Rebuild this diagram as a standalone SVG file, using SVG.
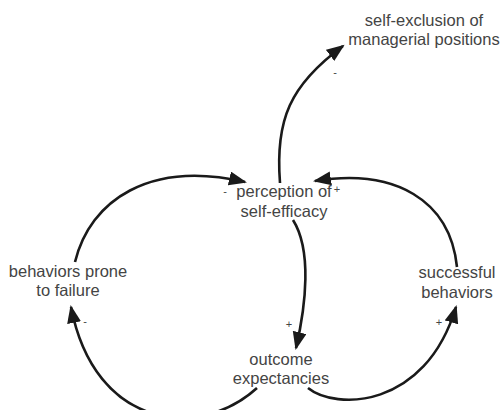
<svg xmlns="http://www.w3.org/2000/svg" width="503" height="410" viewBox="0 0 503 410">
<defs>
<marker id="ah" markerUnits="userSpaceOnUse" markerWidth="20" markerHeight="16" refX="16" refY="7" orient="auto">
<path d="M0,0 L18,7 L0,14 Z" fill="#1a1a1a"/>
</marker>
<style>
.lbl{font-family:"Liberation Sans",Arial,sans-serif;font-size:16.5px;fill:#444444;text-anchor:middle}
.pol{font-family:"Liberation Sans",Arial,sans-serif;font-size:11px;fill:#444444;text-anchor:middle}
.lnk{fill:none;stroke:#1a1a1a;stroke-width:2.6;marker-end:url(#ah)}
</style>
</defs>
<rect width="503" height="410" fill="#ffffff"/>
<g id="connectors">
<path class="lnk" d="M280,183 C275,120 290,85 343,46"/>
<path class="lnk" d="M75,262 C90,200 150,160 245,182"/>
<path class="lnk" d="M457,267 C450,200 395,168 315,181"/>
<path class="lnk" d="M293,220 C312,250 306,305 296,348"/>
<path class="lnk" d="M257,388 C200,440 95,430 71,307"/>
<path class="lnk" d="M308,388 C335,410 425,410 456,307"/>
</g>
<g id="polarities">
<text class="pol" x="335" y="76">-</text>
<text class="pol" x="225" y="195">-</text>
<text class="pol" x="337" y="193">+</text>
<text class="pol" x="289" y="328">+</text>
<text class="pol" x="85" y="325">-</text>
<text class="pol" x="439" y="326">+</text>
</g>
<g id="node-exclusion">
<text class="lbl" x="424" y="26">self-exclusion of</text>
<text class="lbl" x="424" y="45">managerial positions</text>
</g>
<g id="node-efficacy">
<text class="lbl" x="284" y="197">perception of</text>
<text class="lbl" x="284" y="217">self-efficacy</text>
</g>
<g id="node-failure">
<text class="lbl" x="68" y="277">behaviors prone</text>
<text class="lbl" x="68" y="296">to failure</text>
</g>
<g id="node-outcome">
<text class="lbl" x="281" y="365">outcome</text>
<text class="lbl" x="281" y="384">expectancies</text>
</g>
<g id="node-successful">
<text class="lbl" x="457" y="278">successful</text>
<text class="lbl" x="457" y="298">behaviors</text>
</g>
</svg>
